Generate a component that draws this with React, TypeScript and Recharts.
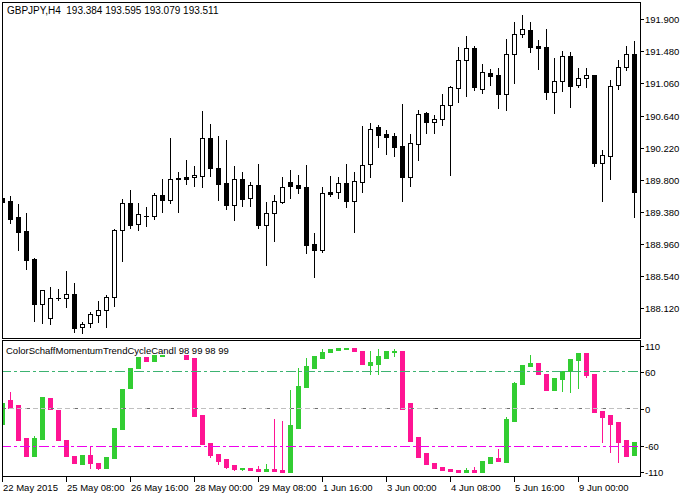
import React from "react";
import { Bar, ComposedChart, ReferenceLine, XAxis, YAxis } from "recharts";

// GBPJPY H4, 22 May - 9 Jun 2015, 80 bars
const priceOpen = [
  189.56, 189.521, 189.311, 189.128, 188.762, 188.177, 187.986, 188.252, 188.248, 188.3,
  187.868, 187.92, 188.025, 188.091, 188.265, 189.139, 189.493, 189.218, 189.323, 189.323,
  189.6, 189.534, 189.816, 189.835, 189.835, 189.844, 190.35, 189.949, 189.756, 189.472,
  189.809, 189.556, 189.731, 189.211, 189.36, 189.512, 189.766, 189.731, 189.7, 188.958,
  188.879, 189.639, 189.643, 189.753, 189.525, 189.766, 190.002, 190.49, 190.394, 190.372,
  190.241, 189.839, 190.271, 190.673, 190.559, 190.591, 190.774, 190.997, 191.367, 191.52,
  190.991, 191.197, 191.171, 190.926, 191.442, 191.707, 191.76, 191.546, 191.537, 190.944,
  191.088, 191.416, 191.04, 191.128, 191.167, 190.022, 190.11, 191.036, 191.279, 191.446,
];
const priceHigh = [
  189.586, 189.586, 189.482, 189.368, 188.77, 188.353, 188.396, 188.37, 188.605, 188.448,
  187.934, 188.072, 188.212, 188.291, 189.156, 189.549, 189.665, 189.495, 189.444, 189.622,
  189.809, 190.35, 189.897, 190.058, 189.983, 190.7, 190.529, 190.377, 190.323, 189.983,
  189.897, 189.77, 190.005, 189.508, 189.6, 189.835, 189.927, 189.861, 189.996, 189.102,
  189.7, 189.848, 189.831, 190.005, 189.897, 190.503, 190.542, 190.516, 190.447, 190.411,
  190.791, 190.398, 190.713, 190.686, 190.643, 190.922, 191.027, 191.537, 191.685, 191.55,
  191.315, 191.249, 191.262, 191.646, 191.869, 191.956, 191.865, 191.629, 191.773, 191.393,
  191.485, 191.472, 191.262, 191.266, 191.171, 190.185, 191.101, 191.367, 191.55, 191.616,
];
const priceLow = [
  189.495, 189.237, 188.879, 188.634, 187.954, 187.928, 187.915, 188.222, 188.137, 187.81,
  187.797, 187.868, 187.943, 187.876, 188.15, 188.74, 189.173, 189.147, 189.199, 189.281,
  189.381, 189.499, 189.381, 189.75, 189.711, 189.703, 189.852, 189.538, 189.42, 189.276,
  189.458, 189.458, 189.172, 188.683, 188.997, 189.491, 189.56, 189.63, 188.844, 188.53,
  188.857, 189.591, 189.565, 189.449, 189.119, 189.639, 189.839, 190.232, 190.14, 190.114,
  189.521, 189.718, 190.058, 190.415, 190.415, 190.52, 189.865, 190.821, 190.9, 190.974,
  190.939, 191.044, 190.739, 190.716, 191.062, 191.668, 191.468, 191.253, 190.86, 190.677,
  190.965, 190.756, 191.018, 191.018, 189.979, 189.525, 189.805, 190.991, 191.236, 189.308,
];
const priceClose = [
  189.508, 189.285, 189.119, 188.752, 188.177, 188.353, 188.252, 188.255, 188.3, 187.863,
  187.907, 188.038, 188.091, 188.265, 189.139, 189.493, 189.213, 189.349, 189.325, 189.6,
  189.538, 189.805, 189.803, 189.813, 189.861, 190.35, 189.949, 189.747, 189.472, 189.809,
  189.547, 189.731, 189.207, 189.36, 189.517, 189.7, 189.721, 189.695, 188.949, 188.883,
  189.622, 189.617, 189.753, 189.525, 189.779, 189.988, 190.46, 190.389, 190.363, 190.232,
  189.839, 190.276, 190.66, 190.559, 190.595, 190.774, 191.01, 191.363, 191.52, 191.018,
  191.21, 191.162, 190.926, 191.446, 191.707, 191.769, 191.541, 191.528, 190.944, 191.092,
  191.416, 191.031, 191.128, 191.167, 190.019, 190.119, 191.027, 191.276, 191.446, 189.635,
];

// ColorSchaffMomentumTrendCycleCandle (null = no candle drawn)
const schaffOpen = [
  -24, 15, 6, -47, -76, -48, 18, -2, -51, -76,
  -89, -75, -88, -95, -79, -32, 34, 66, 84, 78,
  86.4, null, null, 87.5, 83, -10, -55, -73, -81, -91,
  -98, -96, -97, -100, -97, -99, -101.5, -30, 35, 67,
  83, 92, 96, 97, 99.4, 94.5, 72, 73, 83, 93,
  94.5, 9.7, -45, -72, -87, -94, -97, -99, -101.6, -99.4,
  -101.6, -87.5, -79, -86, -19, 40.5, 70, 75, 57, 31,
  49, 62, 80, 91, 57, -3, -9.7, -21, -50, -74,
];
const schaffHigh = [
  10, 28, 6, -47, -43, 19, 18, -2, -51, -76,
  -75, -60, -88, -78, -31, 32, 66, 84, 84, 87,
  88, null, null, 87.5, 83, -10, -55, -73, -81, -91,
  -96, -96, -93, -89, -16, -19, 31, 67, 83, 86,
  97, 97, 99.4, 99.4, 99.4, 94.5, 94.5, 97, 94.5, 97,
  94.5, 9.7, -45, -72, -87, -94, -97, -99, -96, -94,
  -85, -78, -65, -13, 44, 71, 87.5, 75, 57, 50,
  62, 81, 91, 91, 57, -3, -9.7, -21, -50, -53.5,
];
const schaffLow = [
  -24, 2, -50, -76, -76, -48, 0.5, -50, -76, -87,
  -89, -95, -98, -95, -79, -32, 34, 66, 78, 78,
  86.4, null, null, 81, -11, -56, -78, -89, -96, -99,
  -99, -99, -100, -100, -100, -101.5, -101.5, -30, 35, 67,
  83, 92, 96, 97, 93.5, 73.4, 56, 56, 83, 86.4,
  0, -52, -78, -88.6, -95, -98.4, -100, -101.6, -101.6, -101.6,
  -101.6, -87.5, -84, -86, -19, 40.5, 70, 57, 31, 31,
  29, 27.6, 34, 52, -5, -53.5, -69.7, -86, -75.6, -74,
];
const schaffClose = [
  10, 2, -50, -76, -47, 19, 0.5, -50, -76, -87,
  -75, -88, -95, -78, -31, 32, 66, 84, 78, 87,
  88, null, null, 81, -11, -56, -75, -84, -94.5, -97,
  -96, -99, -100, -97, -100, -101.5, -26, 37, 70, 86,
  93, 97, 99.4, 99.4, 93.5, 73.4, 76, 86, 94.5, 93.3,
  0, -52, -78, -88.6, -95, -98.4, -100, -101.6, -99.4, -101.6,
  -85, -78, -84, -16, 42, 71, 75, 57, 31, 50,
  62, 81, 91, 55, -5, -12.4, -24.3, -53.5, -75.6, -53.5,
];

const priceTicks = [188.12, 188.54, 188.96, 189.38, 189.8, 190.22, 190.64, 191.06, 191.48, 191.9];
const schaffTicks = [-110, -60, 0, 60, 110];
const tickBars = [0, 8, 16, 24, 32, 40, 48, 56, 64, 72];
const timeLabels = [
  "22 May 2015", "25 May 08:00", "26 May 16:00", "28 May 00:00", "29 May 08:00",
  "1 Jun 16:00", "3 Jun 00:00", "4 Jun 08:00", "5 Jun 16:00", "9 Jun 00:00",
];

const FONT = "Liberation Sans, Arial, sans-serif";
const FS = 9.5;
const GREEN = "#32CD32";
const PINK = "#FF1493";

const priceData = priceOpen.map((open, i) => ({
  i,
  open,
  high: priceHigh[i],
  low: priceLow[i],
  close: priceClose[i],
  range: [priceLow[i], priceHigh[i]],
}));

const schaffData = schaffOpen.map((open, i) => ({
  i,
  open,
  high: schaffHigh[i],
  low: schaffLow[i],
  close: schaffClose[i],
  range: open == null ? null : [schaffLow[i], schaffHigh[i]],
}));

function candleGeometry(props: any) {
  const { x, y, width, height, payload } = props;
  const top = Math.min(y, y + height);
  const h = Math.abs(height);
  const { open, close, high, low } = payload;
  const toPix = (p: number) => top + ((high - p) / (high - low || 1)) * h;
  const cx = Math.floor(x + width / 2);
  const hi = Math.round(top);
  const lo = Math.round(top + h);
  const bTop = Math.round(toPix(Math.max(open, close)));
  let bBot = Math.round(toPix(Math.min(open, close)));
  if (bBot < bTop) bBot = bTop;
  return { cx, hi, lo, bTop, bBot, bull: close >= open };
}

function PriceCandle(props: any) {
  const { cx, hi, lo, bTop, bBot, bull } = candleGeometry(props);
  const bh = bBot - bTop + 1;
  return (
    <g shapeRendering="crispEdges">
      <rect x={cx} y={hi} width={1} height={Math.max(1, lo - hi + 1)} fill="#000" />
      <rect x={cx - 2} y={bTop} width={5} height={bh} fill="#000" />
      {bull && bh > 2 && (
        <rect x={cx - 1} y={bTop + 1} width={3} height={bh - 2} fill="#fff" />
      )}
    </g>
  );
}

function SchaffCandle(props: any) {
  if (!props.payload || props.payload.open == null) return <g />;
  const { cx, hi, lo, bTop, bBot, bull } = candleGeometry(props);
  const color = bull ? GREEN : PINK;
  return (
    <g shapeRendering="crispEdges">
      <rect x={cx} y={hi} width={1} height={Math.max(1, lo - hi + 1)} fill={color} />
      <rect x={cx - 2} y={bTop} width={5} height={bBot - bTop + 1} fill={color} />
    </g>
  );
}

function PriceTick(props: any) {
  const { y, payload } = props;
  const yy = Math.round(y);
  return (
    <g>
      <rect x={643} y={yy} width={3} height={1} fill="#000" shapeRendering="crispEdges" />
      <text x={647} y={yy + 4} fontFamily={FONT} fontSize={FS} fill="#000">
        {Number(payload.value).toFixed(3)}
      </text>
    </g>
  );
}

function SchaffTick(props: any) {
  const { y, payload } = props;
  const v = payload.value;
  const shift = v === 110 ? 5 : v === -110 ? -5 : 0;
  const yy = Math.round(y + shift);
  return (
    <g>
      <rect x={643} y={yy} width={3} height={1} fill="#000" shapeRendering="crispEdges" />
      <text x={647} y={yy + 4} fontFamily={FONT} fontSize={FS} fill="#000">
        {v}
      </text>
    </g>
  );
}

function TimeTick(props: any) {
  const { x, payload } = props;
  const label = timeLabels[tickBars.indexOf(payload.value)];
  const tx = Math.floor(x);
  return (
    <g>
      <rect x={tx} y={137} width={1} height={5} fill="#000" shapeRendering="crispEdges" />
      <text x={tx + 1} y={150.5} fontFamily={FONT} fontSize={FS} fill="#000">
        {label}
      </text>
    </g>
  );
}

export default function App() {
  return (
    <div
      style={{
        position: "absolute",
        left: 0,
        top: 0,
        width: 692,
        height: 497,
        background: "#fff",
        overflow: "hidden",
      }}
    >
      <div style={{ position: "absolute", left: 2, top: 0, width: 690, height: 340, overflow: "hidden" }}>
        <div style={{ position: "absolute", left: -4, top: 0 }}>
          <ComposedChart
            width={696}
            height={340}
            data={priceData}
            margin={{ top: 2, right: 0, bottom: 2, left: 0 }}
          >
            <XAxis dataKey="i" type="category" hide />
            <YAxis
              orientation="right"
              width={56}
              domain={[187.727, 192.127]}
              allowDataOverflow
              ticks={priceTicks}
              interval={0}
              axisLine={false}
              tickLine={false}
              tick={(p: any) => <PriceTick {...p} />}
            />
            <Bar dataKey="range" barSize={5} isAnimationActive={false} shape={(p: any) => <PriceCandle {...p} />} />
          </ComposedChart>
        </div>
      </div>

      <div style={{ position: "absolute", left: 2, top: 340, width: 690, height: 157, overflow: "hidden" }}>
        <div style={{ position: "absolute", left: -4, top: 0 }}>
          <ComposedChart
            width={696}
            height={157}
            data={schaffData}
            margin={{ top: 0, right: 0, bottom: 0, left: 0 }}
          >
            <XAxis
              dataKey="i"
              type="category"
              height={20}
              ticks={tickBars}
              interval={0}
              axisLine={false}
              tickLine={false}
              tick={(p: any) => <TimeTick {...p} />}
            />
            <YAxis
              orientation="right"
              width={56}
              domain={[-110.2, 111.8]}
              allowDataOverflow
              ticks={schaffTicks}
              interval={0}
              axisLine={false}
              tickLine={false}
              tick={(p: any) => <SchaffTick {...p} />}
            />
            <ReferenceLine y={60} stroke="#3CB371" strokeDasharray="10 3 3 3" shapeRendering="crispEdges" />
            <ReferenceLine y={0} stroke="#c0c0c0" strokeDasharray="5 3" shapeRendering="crispEdges" />
            <ReferenceLine y={0} stroke="#707070" strokeDasharray="3 21" strokeDashoffset={-8} shapeRendering="crispEdges" />
            <ReferenceLine y={-60} stroke="#EE00EE" strokeDasharray="10 3 3 3" shapeRendering="crispEdges" />
            <Bar dataKey="range" barSize={5} isAnimationActive={false} shape={(p: any) => <SchaffCandle {...p} />} />
          </ComposedChart>
        </div>
      </div>

      <svg
        width={692}
        height={497}
        style={{ position: "absolute", left: 0, top: 0, pointerEvents: "none" }}
      >
        <rect x={2.5} y={2.5} width={638} height={336} fill="none" stroke="#000" shapeRendering="crispEdges" />
        <rect x={2.5} y={340.5} width={638} height={136} fill="none" stroke="#000" shapeRendering="crispEdges" />
        <text x={7} y={13.5} fontFamily={FONT} fontSize={10} fill="#000">
          {"GBPJPY,H4\u00A0 193.384 193.595 193.079 193.511"}
        </text>
        <text x={6} y={353.5} fontFamily={FONT} fontSize={FS} fill="#000">
          ColorSchaffMomentumTrendCycleCandl 98 99 98 99
        </text>
      </svg>
    </div>
  );
}
